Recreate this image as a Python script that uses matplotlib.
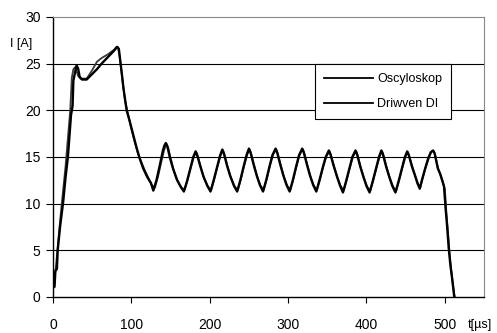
import matplotlib
matplotlib.use("Agg")
from matplotlib import pyplot as plt

# Oscyloskop
t_osc = [0, 2, 3, 5, 6, 9, 13, 16, 19, 21, 23, 25, 26, 28, 30, 32, 34, 37, 43, 50, 56, 62, 70, 78, 82,
         84, 86, 88, 90, 94, 98, 102, 106, 110, 115, 120, 125, 128,
         132, 136, 140, 142, 144, 146, 149, 153, 158, 163, 167,
         171, 175, 179, 182, 184, 188, 192, 197, 201,
         205, 209, 213, 216, 218, 222, 226, 231, 235,
         239, 243, 247, 250, 252, 256, 260, 264, 268,
         272, 276, 280, 284, 286, 290, 294, 298, 302,
         306, 310, 314, 318, 320, 324, 328, 332, 336,
         340, 344, 348, 352, 354, 358, 362, 366, 370,
         374, 378, 382, 386, 388, 392, 396, 400, 404,
         408, 412, 416, 419, 421, 425, 429, 433, 437,
         441, 445, 449, 452, 454, 458, 462, 465, 468,
         471, 475, 479, 482, 485, 487, 489, 491, 494, 497, 499,
         501, 503, 505, 507, 509, 511, 512]
i_osc = [1.0, 1.1, 2.8, 3.0, 5.0, 7.5, 10.2, 12.8, 15.0, 17.3, 19.5, 20.5, 23.2, 24.0, 24.8, 24.5, 23.6, 23.3, 23.3, 23.9, 24.4, 25.0, 25.7, 26.4, 26.8,
         26.6, 25.2, 23.8, 22.3, 20.0, 18.8, 17.5, 16.2, 15.0, 13.8, 12.9, 12.2, 11.4,
         12.5, 14.0, 15.6, 16.2, 16.5, 16.1, 15.0, 13.8, 12.6, 11.8, 11.3,
         12.4, 13.7, 15.0, 15.6, 15.2, 14.0, 12.9, 11.9, 11.3,
         12.5, 13.8, 15.1, 15.8, 15.4, 14.1, 13.0, 11.9, 11.3,
         12.5, 13.9, 15.2, 15.9, 15.5, 14.2, 13.0, 12.0, 11.3,
         12.5, 13.9, 15.2, 15.9, 15.5, 14.2, 13.0, 12.0, 11.3,
         12.5, 13.9, 15.2, 15.9, 15.5, 14.2, 13.0, 12.0, 11.3,
         12.5, 13.8, 15.0, 15.7, 15.3, 14.1, 13.0, 12.0, 11.2,
         12.4, 13.7, 15.0, 15.7, 15.3, 14.0, 12.9, 11.9, 11.2,
         12.4, 13.7, 15.0, 15.7, 15.3, 14.0, 12.9, 11.9, 11.2,
         12.4, 13.7, 15.0, 15.6, 15.2, 14.0, 13.0, 12.2, 11.6,
         12.6, 13.8, 14.9, 15.5, 15.7, 15.4, 14.6, 13.8, 13.2, 12.4, 11.8,
         9.5, 7.5, 5.2, 3.5, 2.2, 0.8, 0.0]

# Driwven DI
t_dri = [0, 2, 4, 7, 10, 13, 16, 19, 22, 24, 26, 28, 30, 32, 35, 39, 43, 50, 56, 62, 70, 78, 81,
         83, 85, 87, 89, 92, 96, 100, 104, 108, 112, 117, 122, 126, 130,
         134, 138, 142, 145, 147, 150, 154, 159, 164, 168,
         172, 176, 180, 183, 185, 189, 193, 198, 202,
         206, 210, 214, 217, 219, 223, 227, 232, 236,
         240, 244, 248, 251, 253, 257, 261, 265, 269,
         273, 277, 281, 285, 287, 291, 295, 299, 303,
         307, 311, 315, 319, 321, 325, 329, 333, 337,
         341, 345, 349, 353, 355, 359, 363, 367, 371,
         375, 379, 383, 387, 389, 393, 397, 401, 405,
         409, 413, 417, 420, 422, 426, 430, 434, 438,
         442, 446, 450, 453, 455, 459, 463, 466, 469,
         472, 476, 480, 483, 486, 488, 490, 492, 495, 498, 500,
         502, 504, 506, 508, 510, 512, 513]
i_dri = [0.8, 2.0, 3.5, 6.3, 9.0, 11.5, 14.0, 17.0, 20.0, 23.5, 24.4, 24.6, 24.2, 23.7, 23.4, 23.4, 23.4, 24.3, 25.2, 25.6, 26.0, 26.5, 26.8,
         26.7, 25.8, 24.4, 23.0, 21.0, 19.5, 18.0, 16.7, 15.5, 14.6, 13.6, 12.7, 12.0, 11.7,
         12.9, 14.4, 15.8, 16.4, 16.0, 14.9, 13.6, 12.4, 11.7, 11.5,
         12.6, 13.9, 15.1, 15.5, 15.0, 13.8, 12.7, 11.8, 11.5,
         12.7, 14.0, 15.2, 15.7, 15.2, 13.9, 12.8, 11.8, 11.5,
         12.7, 14.1, 15.3, 15.8, 15.3, 14.0, 12.8, 11.9, 11.5,
         12.7, 14.1, 15.3, 15.8, 15.3, 14.0, 12.8, 11.9, 11.5,
         12.7, 14.1, 15.3, 15.8, 15.3, 14.0, 12.8, 11.9, 11.5,
         12.7, 14.0, 15.1, 15.6, 15.1, 13.9, 12.8, 11.9, 11.4,
         12.6, 13.9, 15.1, 15.6, 15.1, 13.8, 12.7, 11.8, 11.4,
         12.6, 13.9, 15.1, 15.6, 15.1, 13.8, 12.7, 11.8, 11.4,
         12.6, 13.9, 15.1, 15.5, 15.0, 13.8, 12.8, 12.1, 11.8,
         12.8, 14.0, 15.0, 15.6, 15.6, 15.1, 14.3, 13.6, 13.0, 12.2, 11.6,
         9.0, 7.0, 4.8, 3.0, 1.6, 0.3, 0.0]

x_ticks = [0, 100, 200, 300, 400, 500]
y_ticks = [0, 5, 10, 15, 20, 25, 30]

plt.rcParams['font.family'] = ['Liberation Sans', 'DejaVu Sans']

fig = plt.figure(figsize=(4.97, 3.33), dpi=100)
ax = fig.add_axes([53/497, 1 - 297/333, (484 - 53)/497, (297 - 17)/333])

for y in y_ticks[1:-1]:
    ax.axhline(y, color='black', lw=0.8, zorder=1)

ax.plot(t_osc, i_osc, color='black', lw=1.7, label='Oscyloskop', zorder=3)
ax.plot(t_dri, i_dri, color='#3a3a3a', lw=1.3, label='Driwven DI', zorder=2)

ax.set_xlim(0, 550)
ax.set_ylim(0, 30)
ax.set_xticks(x_ticks)
ax.set_yticks(y_ticks)
ax.tick_params(axis='x', direction='out', length=4, pad=11, labelsize=10, width=0.8)
ax.tick_params(axis='y', direction='out', length=5, pad=4, labelsize=10, width=0.8)

ax.spines['left'].set_color('black')
ax.spines['bottom'].set_color('black')
ax.spines['left'].set_linewidth(1.0)
ax.spines['bottom'].set_linewidth(1.0)
ax.spines['top'].set_color('#888888')
ax.spines['right'].set_color('#888888')

leg = ax.legend(loc='upper left', bbox_to_anchor=(315/497, 1 - 64/333),
                bbox_transform=fig.transFigure, fontsize=9, frameon=True,
                fancybox=False, edgecolor='black', framealpha=1,
                handlelength=3.9, handletextpad=0.3, labelspacing=1.0,
                borderpad=0.75, borderaxespad=0)
leg.get_frame().set_linewidth(0.8)
for line in leg.get_lines():
    line.set_color('black')
    line.set_linewidth(1.3)

fig.text(10/497, 1 - 44/333, 'I [A]', fontsize=9, va='center', ha='left')
fig.text(468/497, 1 - 325/333, 't[\u00b5s]', fontsize=9, va='center', ha='left')

fig.savefig('out.png', dpi=100)
